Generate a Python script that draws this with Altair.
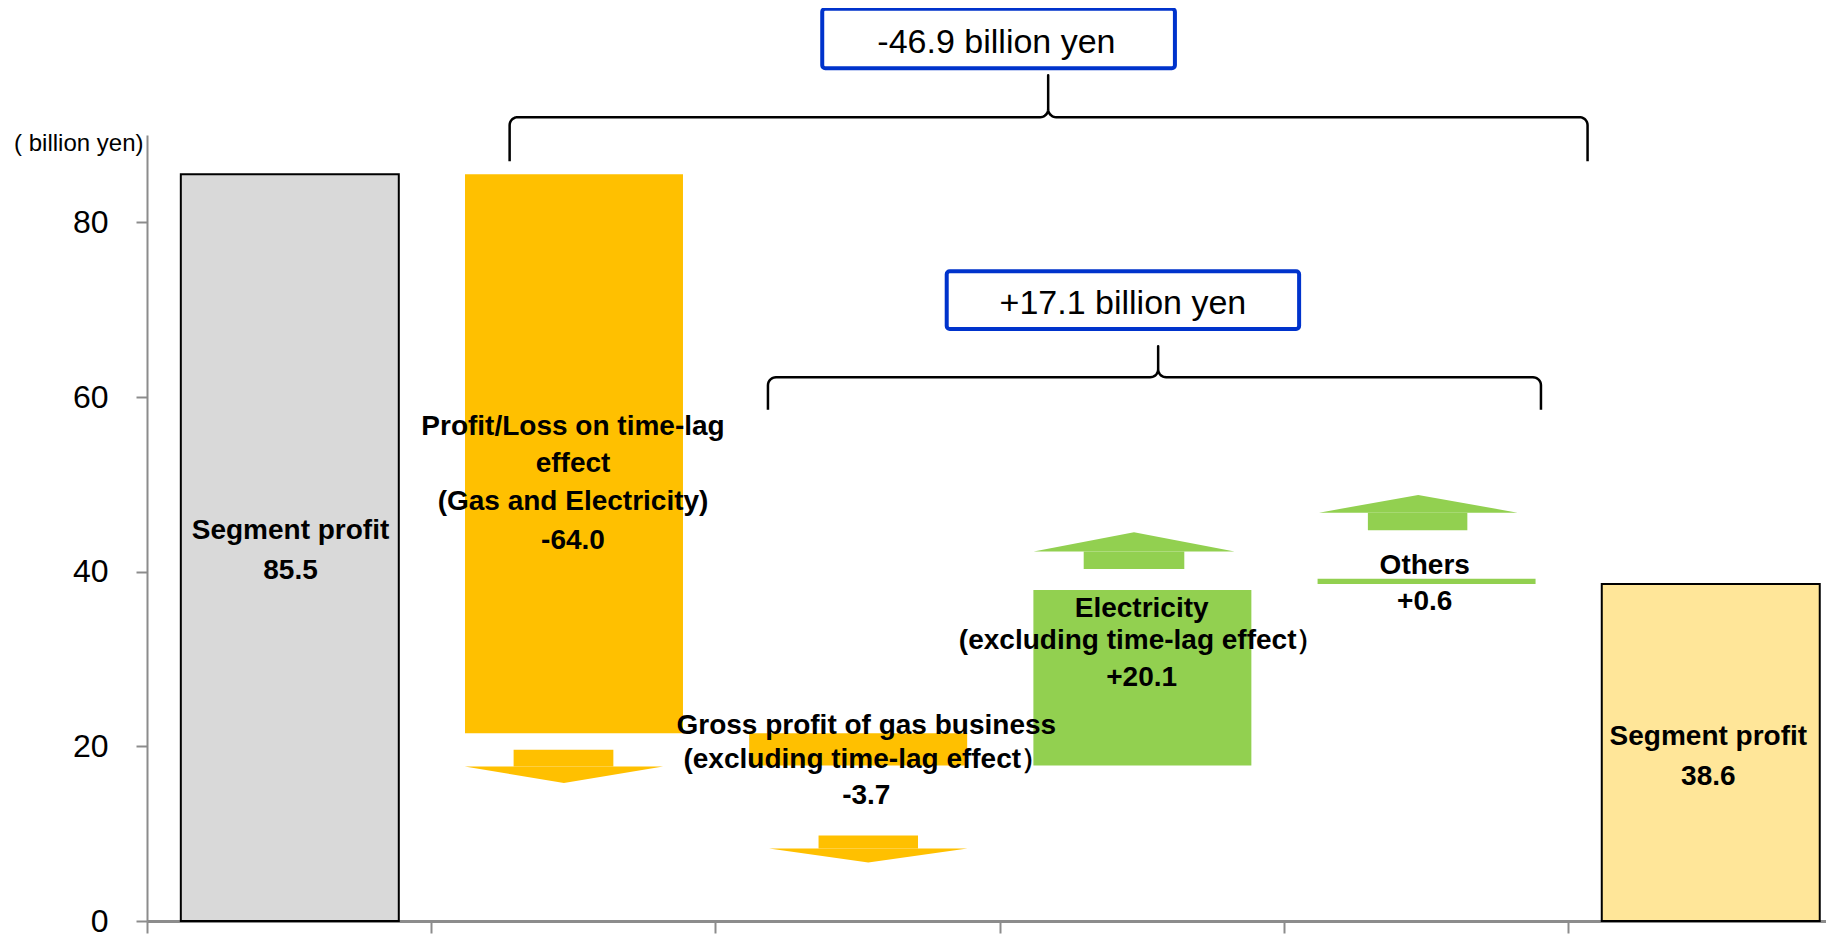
import math
import altair as alt
import pandas as pd

# ---------------- data ----------------
steps = ["Segment profit (prior)", "Profit/Loss on time-lag effect", "Gas business",
         "Electricity", "Others", "Segment profit (current)"]
bar_start = [0.0, 85.5, 21.5, 17.8, 38.6, 0.0]
bar_end = [85.5, 21.5, 17.8, 37.9, 39.2, 38.6]
bar_fill = ["#d9d9d9", "#ffc000", "#ffc000", "#92d050", "#92d050", "#ffe699"]
bar_outline = [2, 0, 0, 0, 0, 2]

y_ticks = [0, 20, 40, 60, 80]
x_ticks = [0, 1, 2, 3, 4, 5]

# label lines: (x position in category units, baseline value, text)
label_x = [0.505, 0.505, 1.499, 1.499, 1.499, 1.499, 2.531, 2.531, 2.531,
           3.5, 3.5, 3.5, 4.496, 4.496, 5.494, 5.494]
label_y = [43.78, 39.20, 55.61, 51.41, 47.02, 42.63, 21.36, 17.47, 13.35,
           34.77, 31.10, 26.86, 39.77, 35.57, 20.10, 15.52]
label_text = ["Segment profit", "85.5",
              "Profit/Loss on time-lag", "effect", "(Gas and Electricity)", "-64.0",
              "Gross profit of gas business", "(excluding time-lag effect\uff09", "-3.7",
              "Electricity", "(excluding time-lag effect\uff09", "+20.1",
              "Others", "+0.6",
              "Segment profit", "38.6"]

box_text = ["-46.9 billion yen", "+17.1 billion yen"]
box_text_x = [2.989, 3.434]
box_text_y = [99.34, 69.55]
box_x = [2.376, 2.814]
box_x2 = [3.617, 4.054]
box_y = [104.45, 74.39]
box_y2 = [97.65, 67.79]

# arrows: shaft x range, shaft y range, head x range, head base, tip
arrow_color = ["#ffc000", "#ffc000", "#92d050", "#92d050"]
shaft_x = [1.290, 2.363, 3.296, 4.296]
shaft_x2 = [1.641, 2.713, 3.650, 4.646]
shaft_y = [19.6, 9.79, 40.3, 44.75]
shaft_y2 = [17.7, 8.30, 42.3, 46.76]
head_x = [1.118, 2.189, 3.120, 4.124]
head_x2 = [1.816, 2.887, 3.827, 4.823]
head_tip_x = [1.467, 2.538, 3.473, 4.473]
head_base = [17.7, 8.30, 42.3, 46.76]
head_tip = [15.8, 6.70, 44.5, 48.77]

# braces: left end, right end, peak x, line level, end level, peak level
brace_x0 = [1.276, 2.185]
brace_x1 = [5.069, 4.905]
brace_xp = [3.171, 3.558]
brace_line = [92.04, 62.26]
brace_end = [87.0, 58.53]
brace_peak = [96.85, 65.81]

# ---------------- layout ----------------
W, H = 1679, 786
XMAX, YMAX = 5.908, 90
PX_X, PX_Y = W / XMAX, H / YMAX
BAR_L, BAR_R = 0.119, 0.886

GREY = "#8c8c8c"
SANS = "Liberation Sans, Arial, sans-serif"

xs = alt.Scale(domain=[0, XMAX], nice=False, zero=False)
ys = alt.Scale(domain=[0, YMAX], nice=False, zero=False)
x_axis = alt.Axis(values=x_ticks, labels=False, title=None, grid=False, ticks=True,
                  tickSize=12, tickWidth=2, tickColor=GREY,
                  domainColor=GREY, domainWidth=3)
y_axis = alt.Axis(values=y_ticks, grid=False, title="( billion yen)", titleAngle=0,
                  titleAlign="right", titleBaseline="alphabetic", titleX=-4, titleY=15,
                  titleFont=SANS, titleFontSize=24, titleFontWeight="normal",
                  titleColor="black", labelFont=SANS, labelFontSize=32,
                  labelColor="black", labelPadding=28, tickSize=11, tickWidth=2,
                  tickColor=GREY, domainColor=GREY, domainWidth=2)


def X(f):
    return alt.X(f, type="quantitative", scale=xs, axis=x_axis)


def Y(f):
    return alt.Y(f, type="quantitative", scale=ys, axis=y_axis)


bars_df = pd.DataFrame({
    "step": steps,
    "x": [i + BAR_L for i in range(len(steps))],
    "x2": [i + BAR_R for i in range(len(steps))],
    "y": bar_start, "y2": bar_end, "fill": bar_fill, "sw": bar_outline,
})
bars = alt.Chart(bars_df).mark_rect(stroke="black").encode(
    x=X("x"), x2="x2", y=Y("y"), y2="y2",
    fill=alt.Fill("fill:N", scale=None),
    strokeWidth=alt.StrokeWidth("sw:Q", scale=None),
)

shaft_df = pd.DataFrame({"x": shaft_x, "x2": shaft_x2, "y": shaft_y, "y2": shaft_y2,
                         "fill": arrow_color})
shafts = alt.Chart(shaft_df).mark_rect().encode(
    x=X("x"), x2="x2", y=Y("y"), y2="y2", fill=alt.Fill("fill:N", scale=None))

head_rows = []
for i in range(len(arrow_color)):
    for xx, yy in [(head_x[i], head_base[i]), (head_tip_x[i], head_tip[i]),
                   (head_x2[i], head_base[i])]:
        head_rows.append({"id": i, "x": xx, "y": head_base[i], "y2": yy,
                          "fill": arrow_color[i]})
heads = alt.Chart(pd.DataFrame(head_rows)).mark_area(orient="vertical").encode(
    x=X("x"), y=Y("y"), y2="y2", fill=alt.Fill("fill:N", scale=None), detail="id:N")


def brace_points(x0, x1, xp, yl, ye, ypk, r=8.0, n=8):
    X0, X1, XP = x0 * PX_X, x1 * PX_X, xp * PX_X
    YL, YE, YP = -yl * PX_Y, -ye * PX_Y, -ypk * PX_Y
    pts = [(X0, YE)]

    def arc(cx, cy, a0, a1):
        for k in range(n + 1):
            a = math.radians(a0 + (a1 - a0) * k / n)
            pts.append((cx + r * math.cos(a), cy + r * math.sin(a)))

    arc(X0 + r, YL + r, 180, 270)
    arc(XP - r, YL - r, 90, 0)
    pts.append((XP, YP))
    arc(XP + r, YL - r, 180, 90)
    arc(X1 - r, YL + r, 270, 360)
    pts.append((X1, YE))
    return [(px / PX_X, -py / PX_Y) for px, py in pts]


brace_rows = []
for b in range(len(brace_x0)):
    for k, (bx, by) in enumerate(brace_points(brace_x0[b], brace_x1[b], brace_xp[b],
                                              brace_line[b], brace_end[b], brace_peak[b])):
        brace_rows.append({"b": b, "k": k, "x": bx, "y": by})
braces = alt.Chart(pd.DataFrame(brace_rows)).mark_line(
    color="black", strokeWidth=2.5, strokeJoin="round").encode(
    x=X("x"), y=Y("y"), detail="b:N", order="k:Q")

boxes = alt.Chart(pd.DataFrame({"x": box_x, "x2": box_x2, "y": box_y, "y2": box_y2})).mark_rect(
    fill="white", stroke="#0033cc", strokeWidth=4, cornerRadius=3).encode(
    x=X("x"), x2="x2", y=Y("y"), y2="y2")

box_labels = alt.Chart(pd.DataFrame({"x": box_text_x, "y": box_text_y, "t": box_text})).mark_text(
    font=SANS, fontSize=34, color="black", align="center", baseline="alphabetic").encode(
    x=X("x"), y=Y("y"), text="t:N")

labels = alt.Chart(pd.DataFrame({"x": label_x, "y": label_y, "t": label_text})).mark_text(
    font=SANS, fontSize=28, fontWeight="bold", color="black", align="center",
    baseline="alphabetic").encode(x=X("x"), y=Y("y"), text="t:N")

chart = alt.layer(bars, shafts, heads, braces, boxes, box_labels, labels).properties(
    width=W, height=H,
    padding={"left": 139, "top": 127, "right": 0, "bottom": 20},
    autosize=alt.AutoSizeParams(type="none"),
    background="white",
).configure_view(stroke=None)

chart.save("out.html", embed_options={"renderer": "svg", "actions": False})
